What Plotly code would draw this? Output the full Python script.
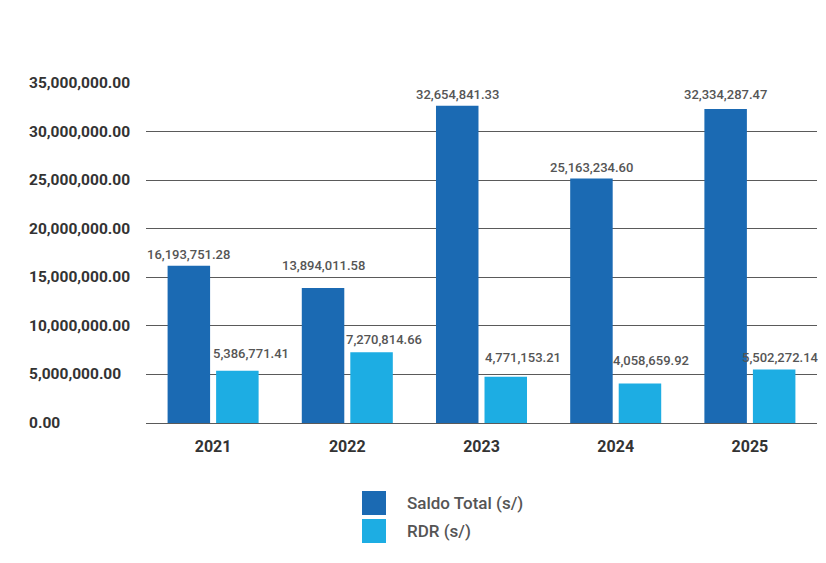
import plotly.graph_objects as go

years = ["2021", "2022", "2023", "2024", "2025"]
saldo_total = [16193751.28, 13894011.58, 32654841.33, 25163234.60, 32334287.47]
rdr = [5386771.41, 7270814.66, 4771153.21, 4058659.92, 5502272.14]
series_names = ["Saldo Total (s/)", "RDR (s/)"]
series_colors = ["#1b6ab3", "#1dade3"]
y_ticks = [0, 5000000, 10000000, 15000000, 20000000, 25000000, 30000000, 35000000]

# label placement styles (pixel nudges), as in the reference
saldo_label_gap = [11, 23, 11, 11, 14]
rdr_label_gap = [17, 13, 19, 23, 12]
rdr_label_dx = [-2, -3, 1, -5, -10]

W, H = 826, 563
OFF = 8  # page body margin offset
L, R, T, B = 146 - OFF, 17, 83 - OFF, 563 - (423 - OFF)
PW, PH = W - L - R, H - T - B


def px(x):
    return (x - OFF - L) / PW


def py(y):
    return (H - B - (y - OFF)) / PH


def fmt(v):
    return f"{v:,.2f}"


fig = go.Figure()
for name, vals, col in zip(series_names, [saldo_total, rdr], series_colors):
    fig.add_trace(go.Bar(
        x=years, y=vals, name=name, marker=dict(color=col, line=dict(width=0)),
        showlegend=False, hoverinfo="x+y",
    ))

shapes = []
annotations = []
label_font = dict(family="Roboto", size=13, color="#555555", weight=500)
cat_w = PW / len(years)
slot = cat_w * (1 - 0.277) / 2
for i, (v, g) in enumerate(zip(saldo_total, saldo_label_gap)):
    annotations.append(dict(x=i, y=v, xref="x", yref="y", text=fmt(v), showarrow=False,
                            xanchor="center", yanchor="middle", xshift=-slot / 2, yshift=g,
                            font=label_font))
for i, (v, g, dx) in enumerate(zip(rdr, rdr_label_gap, rdr_label_dx)):
    annotations.append(dict(x=i, y=v, xref="x", yref="y", text=fmt(v), showarrow=False,
                            xanchor="left", yanchor="middle", xshift=dx, yshift=g,
                            font=label_font))

for t in y_ticks:
    annotations.append(dict(xref="paper", yref="y", x=px(27), y=t, xanchor="left", yanchor="middle",
                            text=fmt(t), showarrow=False,
                            font=dict(family="Roboto", size=15.5, color="#333333", weight="bold")))

# legend
leg_y = [503, 531]
for name, col, yc in zip(series_names, series_colors, leg_y):
    shapes.append(dict(type="rect", xref="paper", yref="paper", x0=px(362), x1=px(386),
                       y0=py(yc - 12), y1=py(yc + 12), fillcolor=col, line=dict(width=0)))
    annotations.append(dict(xref="paper", yref="paper", x=px(405), y=py(yc), xanchor="left", yanchor="middle",
                            text=name, showarrow=False,
                            font=dict(family="Roboto", size=17, color="#555555", weight=500)))

fig.update_layout(
    width=W, height=H,
    margin=dict(l=L, r=R, t=T, b=B, pad=0),
    paper_bgcolor="white", plot_bgcolor="white",
    barmode="group", bargap=0.277, bargroupgap=0.124,
    shapes=shapes, annotations=annotations,
    xaxis=dict(type="category", range=[-0.5, len(years) - 0.5], showgrid=False, showline=False,
               ticks="", zeroline=False,
               tickfont=dict(family="Roboto", size=16, color="#333333", weight="bold"),
               ticklabelstandoff=12),
    yaxis=dict(range=[0, 35000000], tickvals=y_ticks, showticklabels=False, showgrid=True,
               gridcolor="#5a5a5a", gridwidth=1, zeroline=True, zerolinecolor="#5a5a5a",
               zerolinewidth=1, showline=False, ticks=""),
)

fig.write_html("out.html")
